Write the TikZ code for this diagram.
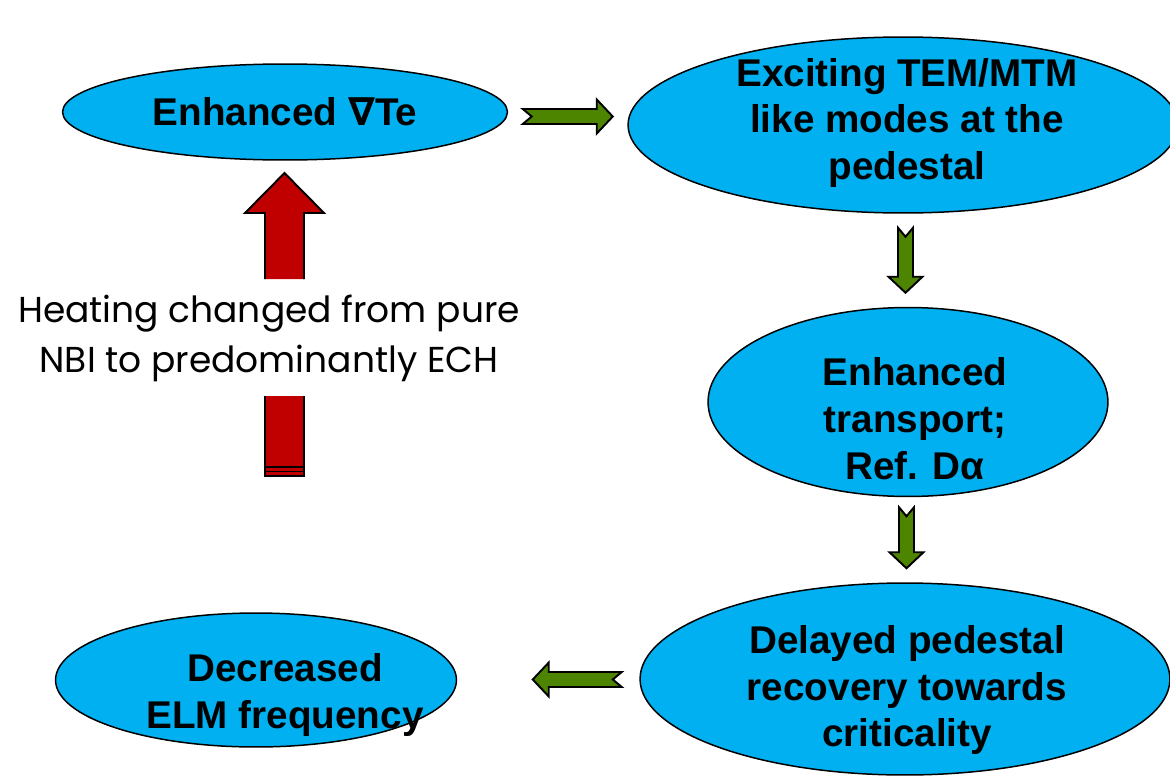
\documentclass[tikz,border=0pt]{standalone}
\usepackage{fontspec}
\setmainfont{Liberation Sans}
\newfontfamily\gothic{Poppins}
\newfontfamily\symfont{DejaVu Sans}
\usetikzlibrary{shapes.geometric,calc}

\definecolor{blobblue}{HTML}{00B0F0}
\definecolor{arrowgreen}{HTML}{4E8500}
\definecolor{heatred}{HTML}{C00000}

\tikzset{
  pics/fatarrow/.style={code={
    \filldraw[fill=arrowgreen,draw=black,line width=1.1pt,line join=miter]
      ({-#1/2},-7.5) -- ({#1/2-16},-7.5) -- ({#1/2-16},-17) -- ({#1/2},0)
      -- ({#1/2-16},17) -- ({#1/2-16},7.5) -- ({-#1/2},7.5) -- ({-#1/2+9},0) -- cycle;
  }}
}

\begin{document}
\begin{tikzpicture}[x=0.02cm,y=-0.02cm,
  blob/.style={ellipse,draw=black,line width=0.85pt,fill=blobblue,inner sep=0pt},
  txt/.style={align=center,font=\fontsize{22}{26.7}\selectfont\bfseries}]
\useasboundingbox (0,0) rectangle (1170,781);

% ellipses
\node[blob,minimum width=8.9cm,minimum height=1.92cm] (pump) at (285,112) {};
\node[blob,minimum width=11cm,minimum height=3.52cm] (modes) at (903,125) {};
\node[blob,minimum width=8cm,minimum height=3.78cm] (transport) at (908,402) {};
\node[blob,minimum width=10.6cm,minimum height=3.84cm] (recovery) at (905,679) {};
\node[blob,minimum width=8.02cm,minimum height=2.68cm] (freq) at (256,680) {};

\node[txt] (pumptext) at (285,112) {Enhanced {\symfont ∇}Te};
\node[txt] (modestext) at (907,123) {Exciting TEM/MTM\\like modes at the\\pedestal};
\node[txt] (transporttext) at (915,419) {Enhanced\\transport;\\Ref. Dα};
\node[txt] (recoverytext) at (907,690) {Delayed pedestal\\recovery towards\\criticality};
\node[txt] (freqtext) at (285,695) {Decreased\\ELM frequency};

% green arrows
\pic at ($(pump.east)!0.5!(modes.west)+(0,-2)$) {fatarrow=90};
\pic[rotate=-90] at ($(modes.south)!0.5!(transport.north)$) {fatarrow=65};
\pic[rotate=-90] at ($(transport.south)!0.5!(recovery.north)+(0,-2)$) {fatarrow=61};
\pic[rotate=180] at ($(recovery.west)!0.5!(freq.east)+(29,0)$) {fatarrow=89};

% red arrow
\fill[heatred] (265,279) -- (265,213) -- (245,213) -- (284.5,173) -- (324,213) -- (304,213) -- (304,279) -- cycle;
\draw[line width=1.1pt] (265,279) -- (265,213) -- (245,213) -- (284.5,173) -- (324,213) -- (304,213) -- (304,279);
\fill[heatred] (265,396) rectangle (304,477);
\draw[line width=1.1pt] (265,396) -- (265,477) (304,396) -- (304,477);
\foreach \y in {467,471.5,476}
  \draw[line width=0.8pt] (265,\y) -- (304,\y);

\node[font=\gothic\fontsize{20.5}{28.5}\selectfont,align=center] (heat) at (269,338) {Heating changed from pure\\NBI to predominantly ECH};
\end{tikzpicture}
\end{document}
